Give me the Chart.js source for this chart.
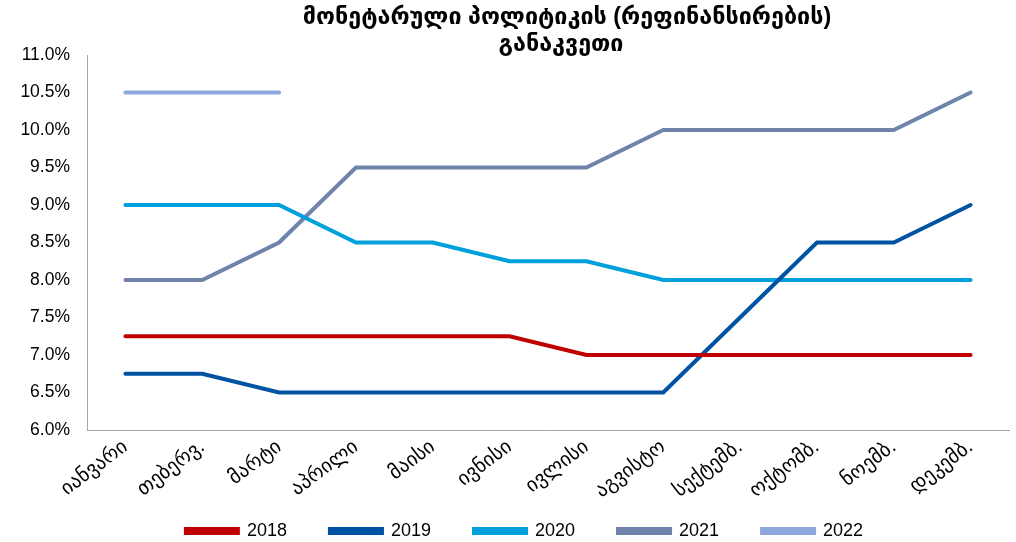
<!DOCTYPE html>
<html>
<head>
<meta charset="utf-8">
<script src="https://cdn.jsdelivr.net/npm/chart.js@4/dist/chart.umd.min.js"></script>
<style>
  html, body { margin: 0; padding: 0; background: #fff; }
  #wrap { width: 1016px; height: 542px; }
</style>
</head>
<body>
<div id="wrap"><canvas id="line-chart" width="1016" height="542"></canvas></div>
<script>
const months = ["იანვარი", "თებერვ.", "მარტი", "აპრილი", "მაისი", "ივნისი", "ივლისი", "აგვისტო", "სექტემბ.", "ოქტომბ.", "ნოემბ.", "დეკემბ."];

const rate2018 = [7.25, 7.25, 7.25, 7.25, 7.25, 7.25, 7.0, 7.0, 7.0, 7.0, 7.0, 7.0];
const rate2019 = [6.75, 6.75, 6.5, 6.5, 6.5, 6.5, 6.5, 6.5, 7.5, 8.5, 8.5, 9.0];
const rate2020 = [9.0, 9.0, 9.0, 8.5, 8.5, 8.25, 8.25, 8.0, 8.0, 8.0, 8.0, 8.0];
const rate2021 = [8.0, 8.0, 8.5, 9.5, 9.5, 9.5, 9.5, 10.0, 10.0, 10.0, 10.0, 10.5];
const rate2022 = [10.5, 10.5, 10.5];

const titleLines = ["მონეტარული პოლიტიკის (რეფინანსირების)", "განაკვეთი"];

const yMin = 6, yMax = 11, yStep = 0.5;

const fontFamily = "Arial, 'Liberation Sans', 'DejaVu Sans', sans-serif";

function line(label, data, color) {
    return {
        label: label,
        data: data,
        borderColor: color,
        backgroundColor: color,
        borderWidth: 4,
        pointRadius: 0,
        tension: 0,
        fill: false,
        borderCapStyle: 'round'
    };
}

// title drawn a bit right of centre, like the original
const titlePlugin = {
    id: 'offsetTitle',
    beforeDraw(chart) {
        // legend row sits a little right of the canvas centre too
        if (chart.legend) {
            chart.legend.left = 40;
            chart.legend.right = 1009;
        }
    },
    afterDraw(chart) {
        const ctx = chart.ctx;
        ctx.save();
        ctx.fillStyle = '#000';
        ctx.font = "bold 23.3px " + fontFamily;
        ctx.textAlign = 'center';
        ctx.textBaseline = 'middle';
        ctx.fillText(titleLines[0], 567, 18);
        ctx.fillText(titleLines[1], 561, 45);
        ctx.restore();
    }
};

new Chart(document.getElementById("line-chart"), {
    type: 'line',
    data: {
        labels: months,
        datasets: [
            line("2018", rate2018, "#C00000"),
            line("2019", rate2019, "#0052A3"),
            line("2020", rate2020, "#00A0DC"),
            line("2021", rate2021, "#7083AA"),
            line("2022", rate2022, "#8DA8DA")
        ]
    },
    plugins: [titlePlugin],
    options: {
        responsive: false,
        animation: false,
        layout: { padding: { left: 0, right: 7, top: 55, bottom: -8 } },
        plugins: {
            title: { display: false },
            legend: {
                position: 'bottom',
                labels: {
                    boxWidth: 52,
                    boxHeight: 4,
                    padding: 3,
                    color: '#000',
                    font: { family: fontFamily, size: 18 },
                    generateLabels(chart) {
                        const items = Chart.defaults.plugins.legend.labels.generateLabels(chart);
                        items.forEach((it, i) => {
                            if (i < items.length - 1) it.text = it.text + '\u00A0'.repeat(8);
                        });
                        return items;
                    }
                }
            },
            tooltip: { enabled: false }
        },
        scales: {
            x: {
                offset: true,
                grid: { display: false, drawTicks: false },
                border: { display: true, color: '#A6A6A6', width: 1 },
                afterFit(scale) { scale.height = 89; },
                ticks: {
                    color: '#000',
                    maxRotation: 37,
                    minRotation: 37,
                    padding: 5,
                    font: { family: fontFamily, size: 20 }
                }
            },
            y: {
                min: yMin,
                max: yMax,
                grid: { display: false, drawTicks: false },
                border: { display: true, color: '#A6A6A6', width: 1 },
                afterFit(scale) { scale.width = 87; },
                ticks: {
                    stepSize: yStep,
                    padding: 17,
                    color: '#000',
                    font: { family: fontFamily, size: 17.5 },
                    callback: v => v.toFixed(1) + '%'
                }
            }
        }
    }
});
</script>
</body>
</html>
